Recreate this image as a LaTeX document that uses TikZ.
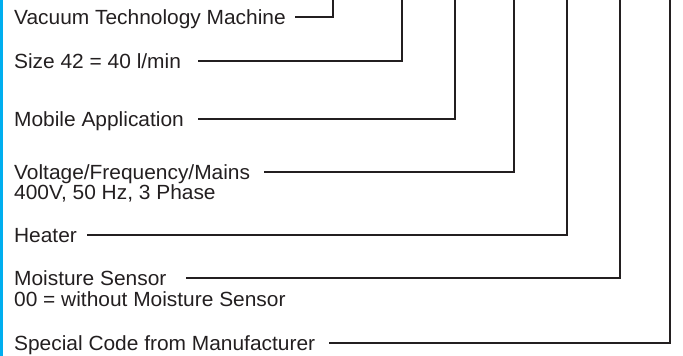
\documentclass[tikz,border=0pt]{standalone}
\usepackage{fontspec}
\setmainfont{Liberation Sans}[FakeStretch=1.02]
\usepackage{tikz}
\usetikzlibrary{positioning}
\definecolor{textgray}{RGB}{35,31,32}
\definecolor{edgeblue}{RGB}{0,174,239}

\begin{document}
\begin{tikzpicture}[x=1pt, y=-1pt, line width=2.3pt, draw=textgray,
                  label/.style={anchor=base west, inner sep=0pt, text=textgray,
                  font=\fontsize{20.5}{22}\selectfont}]

                  \useasboundingbox (0,0) rectangle (683,356);
                  \fill[edgeblue] (0,0) rectangle (2.5,356);

                  % Texto de cada campo del código.
                  \node[label] (vac) at (13,24) {Vacuum Technology Machine};
                  \node[label] (size) at (13,68) {Size 42 = 40 l/min};
                  \node[label] (mob) at (13,126) {Mobile Application};
                  \node[label] (volt) at (13,179) {Voltage/Frequency/Mains};
                  \node[label] (volt2) at (13,199) {400V, 50 Hz, 3 Phase};
                  \node[label] (heat) at (13,242) {Heater};
                  \node[label] (moist) at (13,285) {Moisture Sensor};
                  \node[label] (moist2) at (13,306) {00 = without Moisture Sensor};
                  \node[label] (spec) at (13,350) {Special Code from Manufacturer};

                  % Inicio de cada línea y su extremo en el borde superior.
                  \coordinate (s1) at (295,17);  \coordinate (t1) at (333,0);
                  \coordinate (s2) at (198,61);  \coordinate (t2) at (402,0);
                  \coordinate (s3) at (198,119); \coordinate (t3) at (455,0);
                  \coordinate (s4) at (264,172); \coordinate (t4) at (514,0);
                  \coordinate (s5) at (87,235);  \coordinate (t5) at (567,0);
                  \coordinate (s6) at (186,278); \coordinate (t6) at (620,0);
                  \coordinate (s7) at (329,343); \coordinate (t7) at (670,0);

                  % Dibujamos las líneas.
                  \draw (s1) -| (t1)
                        (s2) -| (t2)
                        (s3) -| (t3)
                        (s4) -| (t4)
                        (s5) -| (t5)
                        (s6) -| (t6)
                        (s7) -| (t7);

                \end{tikzpicture}
\end{document}
